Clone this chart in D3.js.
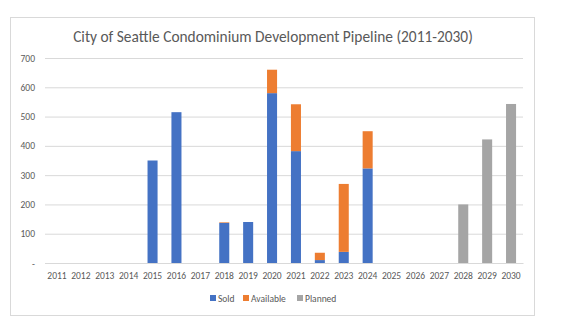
<!DOCTYPE html>
<html>
<head>
<meta charset="utf-8">
<script src="https://cdn.jsdelivr.net/npm/d3@7"></script>
<style>
  body { margin: 0; background: #fff; }
  text { font-family: Calibri, Carlito, "Open Sans", "DejaVu Sans", sans-serif; }
</style>
</head>
<body>
<div id="root"></div>
<script>
// units per year
const years = ["2011","2012","2013","2014","2015","2016","2017","2018","2019","2020",
               "2021","2022","2023","2024","2025","2026","2027","2028","2029","2030"]
const sold      = [0,0,0,0,350,515,0,137,140,580,382,10,38,323,0,0,0,0,0,0]
const available = [0,0,0,0,0,0,0,2,0,80,160,25,232,127,0,0,0,0,0,0]
const planned   = [0,0,0,0,0,0,0,0,0,0,0,0,0,0,0,0,0,200,422,543]
const seriesNames = ["Sold","Available","Planned"]
const yTicks = [0,100,200,300,400,500,600,700]

const colors = {Sold:"#4472C4", Available:"#ED7D31", Planned:"#A5A5A5"}
const textColor = "#595959"
const fontStack = "Calibri, Carlito, 'Open Sans', 'DejaVu Sans', sans-serif"

const width = 586, height = 325
const frame = {x:10, y:17, w:524, h:298}
const plot = {left:45, right:523, top:58, bottom:263}

const svg = d3.select("#root").append("svg")
    .attr("width", width)
    .attr("height", height)

svg.append("rect")
    .attr("x", frame.x + 0.5)
    .attr("y", frame.y + 0.5)
    .attr("width", frame.w)
    .attr("height", frame.h)
    .attr("fill", "#fff")
    .attr("stroke", "#d9d9d9")

svg.append("text")
    .attr("x", frame.x + frame.w/2 + 1)
    .attr("y", 42)
    .attr("text-anchor", "middle")
    .attr("font-size", 15.4)
    .attr("fill", textColor)
    .text("City of Seattle Condominium Development Pipeline (2011-2030)")

const x = d3.scaleBand()
    .domain(years)
    .range([plot.left, plot.right])
    .paddingInner(0.58)
    .paddingOuter(0.29)

const y = d3.scaleLinear()
    .domain([0, 700])
    .range([plot.bottom, plot.top])

// gridlines + y labels
const yAxis = svg.append("g")
    .attr("transform", `translate(${plot.left},0)`)
    .call(d3.axisLeft(y).tickValues(yTicks)
        .tickSize(-(plot.right - plot.left))
        .tickFormat(d => d === 0 ? "-" : d))
yAxis.select(".domain").remove()
yAxis.selectAll(".tick line").attr("stroke", "#d9d9d9")
yAxis.selectAll(".tick text")
    .attr("x", -10)
    .attr("fill", textColor)
    .attr("font-size", 9.5)
    .style("font-family", fontStack)

// stacked bars
const table = years.map((yr, i) => ({year: yr, Sold: sold[i], Available: available[i], Planned: planned[i]}))
const stacked = d3.stack().keys(seriesNames)(table)

svg.append("g").selectAll("g")
    .data(stacked)
    .join("g")
    .attr("fill", d => colors[d.key])
    .selectAll("rect")
    .data(d => d.filter(p => p[1] > p[0]))
    .join("rect")
    .attr("x", d => x(d.data.year))
    .attr("y", d => y(d[1]))
    .attr("width", x.bandwidth())
    .attr("height", d => y(d[0]) - y(d[1]))

// x labels
const xAxis = svg.append("g")
    .attr("transform", `translate(0,${plot.bottom})`)
    .call(d3.axisBottom(x).tickSize(0).tickPadding(9))
xAxis.select(".domain").attr("stroke", "#d9d9d9")
xAxis.selectAll(".tick text")
    .attr("fill", textColor)
    .attr("font-size", 9.5)
    .style("font-family", fontStack)

// legend
const legendX = [210, 243, 297]
const legend = svg.append("g")
seriesNames.forEach((name, i) => {
    legend.append("rect")
        .attr("x", legendX[i])
        .attr("y", 295)
        .attr("width", 6)
        .attr("height", 6)
        .attr("fill", colors[name])
    legend.append("text")
        .attr("x", legendX[i] + 8)
        .attr("y", 301.5)
        .attr("font-size", 9.5)
        .attr("fill", textColor)
        .text(name)
})
</script>
</body>
</html>
